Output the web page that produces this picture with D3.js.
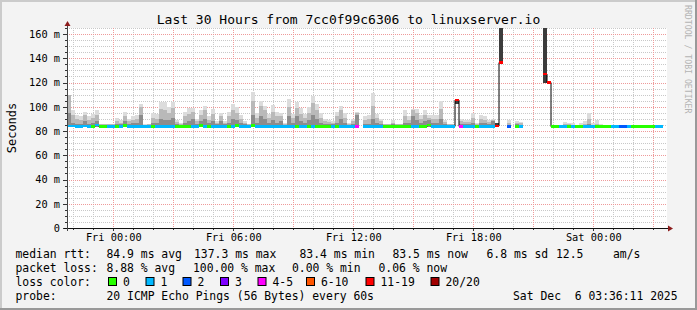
<!DOCTYPE html>
<html>
<head>
<meta charset="utf-8">
<script src="https://cdn.jsdelivr.net/npm/d3@7"></script>
<style>
  html, body { margin: 0; padding: 0; background: #f3f3f3; }
  svg { display: block; font-family: "DejaVu Sans Mono", monospace; }
</style>
</head>
<body>
<script>
// one column = 12 minutes, first column starts Thu 21:41 (UTC)
const startTime = Date.UTC(2025, 11, 4, 21, 41, 10);
const endTime = Date.UTC(2025, 11, 6, 3, 41, 10);
const stepMinutes = 12;

// median rtt per column (ms)
const median = [
  84.0, 84.0, 83.8, 83.8, 84.0, 83.8, 83.8, 85.0, 83.6, 83.6,
  83.8, 83.8, 83.6, 83.8, 84.6, 83.8, 83.8, 83.8, 83.8, 83.6,
  83.6, 83.6, 83.8, 83.8, 83.8, 83.8, 83.8, 83.6, 83.6, 83.6,
  83.6, 83.8, 83.8, 84.6, 83.8, 83.6, 83.8, 83.8, 83.8, 83.8,
  83.6, 83.8, 84.4, 83.8, 83.8, 83.8, 84.8, 83.8, 83.8, 83.8,
  83.8, 83.8, 83.8, 83.8, 83.8, 83.8, 83.8, 83.6, 83.8, 83.8,
  83.6, 83.8, 83.6, 83.6, 83.6, 83.6, 83.8, 83.6, 83.8, 83.8,
  83.8, 83.8, 83.8, null, 83.8, 83.8, 83.8, 83.8, 83.8, 83.6,
  83.6, 83.6, 83.6, 83.6, 83.6, 83.6, 83.8, 83.8, 83.6, 83.6,
  85.0, 83.8, 83.8, 83.8, 83.8, 83.8, 83.8, 105.5, 83.8, 83.8,
  83.8, 83.8, 83.6, 83.8, 83.8, 83.8, 83.8, 84.2, 136.5, null,
  83.8, null, 83.6, 83.8, null, null, null, null, null, 127.0,
  120.0, 83.6, 83.6, 83.8, 83.8, 83.6, 83.8, 83.6, 83.6, 83.8,
  83.8, 83.8, 83.6, 83.6, 83.6, 83.6, 83.8, 83.8, 83.8, 83.8,
  83.8, 83.6, 83.6, 83.6, 83.6, 83.6, 83.6, 83.8, 83.8, null
];

// lost pings (of 20) per column
const lossCount = [
  1, 1, 1, 1, 1, 1, 0, 1, 0, 0,
  1, 1, 0, 1, 0, 1, 1, 1, 1, 1,
  1, 0, 1, 1, 1, 1, 1, 0, 0, 0,
  0, 1, 1, 0, 1, 0, 1, 1, 1, 1,
  0, 1, 0, 1, 1, 1, 0, 1, 1, 1,
  1, 1, 1, 1, 1, 1, 1, 0, 1, 1,
  0, 1, 0, 0, 0, 0, 1, 0, 1, 1,
  1, 1, 4, null, 1, 1, 1, 1, 1, 0,
  0, 0, 0, 0, 0, 0, 1, 1, 0, 0,
  0, 1, 1, 1, 1, 1, 1, 14, 5, 1,
  1, 1, 0, 1, 1, 1, 1, 12, 15, null,
  2, null, 0, 1, null, null, null, null, null, 13,
  16, 0, 0, 1, 1, 0, 1, 0, 0, 1,
  1, 1, 0, 0, 0, 0, 1, 1, 2, 2,
  1, 0, 0, 0, 0, 0, 0, 1, 1, null
];

// smoke: fastest ping, inner band top, middle band top, slowest ping (ms)
const smokeMin = [
  83.2, 83.2, 83.2, 83.2, 83.2, 83.2, 83.2, 83.2, 83.2, 83.2,
  83.2, 83.2, 83.2, 83.2, 83.2, 83.2, 83.2, 83.2, 83.2, 83.2,
  83.2, 83.2, 83.2, 83.2, 83.2, 83.2, 83.2, 83.2, 83.2, 83.2,
  83.2, 83.2, 83.2, 83.2, 83.2, 83.2, 83.2, 83.2, 83.2, 83.2,
  83.2, 83.2, 83.2, 83.2, 83.2, 83.2, 83.2, 83.2, 83.2, 83.2,
  83.2, 83.2, 83.2, 83.2, 83.2, 83.2, 83.2, 83.2, 83.2, 83.2,
  83.2, 83.2, 83.2, 83.2, 83.2, 83.2, 83.2, 83.2, 83.2, 83.2,
  83.2, 83.2, 83.2, null, 83.2, 83.2, 83.2, 83.2, 83.2, 83.2,
  83.2, 83.2, 83.2, 83.2, 83.2, 83.2, 83.2, 83.2, 83.2, 83.2,
  83.2, 83.2, 83.2, 83.2, 83.2, 83.2, 83.2, 102.2, 83.2, 83.2,
  83.2, 83.2, 83.2, 83.2, 83.2, 83.2, 83.2, 83.2, 136.5, null,
  83.2, null, 83.2, 83.2, null, null, null, null, null, 120.0,
  null, 83.2, 83.2, 83.2, 83.2, 83.2, 83.2, 83.2, 83.2, 83.2,
  83.2, 83.2, 83.2, 83.2, 83.2, 83.2, 83.2, 83.2, 83.2, 83.2,
  83.2, 83.2, 83.2, 83.2, 83.2, 83.2, 83.2, 83.2, 83.2, null
];
const smokeLo = [
  95, 87, 86, 86, 88, 86, 87, 88, 84.8, 84.8,
  84.8, 84.8, 86, 85.5, 88, 86, 86.5, 87, 93, 84.5,
  84.8, 87, 86.5, 90, 89, 89, 91, 86, 85, 87,
  88, 90, 86, 88, 90, 86.5, 88, 85.5, 88, 85.5,
  87, 90, 89, 87, 85.5, 84.8, 93, 87, 92, 90,
  87, 89, 87, 88, 85, 92, 87, 92, 88, 87,
  89, 93, 90, 87, 86, 86, 85.5, 87, 90, 87,
  85, 86, 93, null, 86, 86, 90, 87, 86, 84.8,
  84.8, 85.5, 84.8, 84.8, 87, 86.5, 92, 89, 87, 88,
  89, 87, 87, 90, 86, 84.8, 84.8, 105.2, 86, 86,
  85.5, 87, 85, 87, 86.5, 86, 88, 85, 200, null,
  85, null, 85.5, 85, null, null, null, null, null, 200,
  null, 84, 84, 84, 84.5, 84.5, 84.2, 84, 84.2, 84.5,
  86, 84.2, 84.5, 84.2, 84, 84, 84, 84, 84, 84,
  84, 84, 84, 84, 84, 84, 84, 84, 84, null
];
const smokeHi = [
  110, 93, 90, 89, 93, 89, 91, 93, 85.5, 85.5,
  85.5, 85.5, 88, 87, 92, 88, 89, 90, 100, 85,
  85.5, 91, 90, 98, 97, 95, 99, 87.5, 86, 92,
  94, 96, 88, 93, 97, 89.5, 94, 87, 92, 87,
  92, 97, 95, 90, 87, 85.5, 105, 91, 101, 97,
  91, 96, 92, 92, 86, 100, 91, 99, 94, 91,
  95, 103, 97, 91, 88, 87.5, 87, 92, 97, 91,
  86, 88, 95, null, 89, 90, 101, 91, 88, 85.5,
  85.5, 87, 85.5, 85.5, 92, 89, 97, 95, 90, 93,
  91, 90, 90, 98, 87.5, 85.5, 85.5, 105.2, 88, 87.5,
  87.5, 91, 86, 90, 89, 87.5, 89.5, 86, 200, null,
  87, null, 87, 86.5, null, null, null, null, null, 200,
  null, 84.3, 84.5, 84.3, 85.5, 85.5, 85, 84.5, 85, 86,
  90, 85, 86, 85, 84.3, 84, 84, 84.5, 84.3, 84,
  84.5, 84.3, 84, 84.5, 84.3, 84.5, 84.3, 84, 84, null
];
const smokeMax = [
  110, 97, 93, 92, 96, 92, 94, 97, 86, 86,
  86, 86, 91, 89, 96, 90, 92, 93, 102.5, 85.5,
  86, 95, 94, 104, 104, 100, 104, 89, 87, 96,
  99, 99, 90, 97, 101, 92, 98, 88, 95, 88,
  96, 102.5, 100, 93, 88, 86, 112.6, 95, 104.5, 101,
  94, 101.5, 96, 95, 87, 106.6, 94, 104, 99, 94,
  100, 109, 102, 95, 90, 89, 88, 96, 101, 95,
  87, 90, 96, null, 92, 93, 111.6, 94, 90, 86,
  86, 89, 86, 86, 97, 92, 98, 98, 93, 97,
  93, 93, 93, 104.6, 89, 86, 86, 105.2, 90, 89,
  89, 95, 87, 93, 92, 89, 90, 87, 200, null,
  89, null, 88, 87.5, null, null, null, null, null, 200,
  null, 84.5, 85, 84.5, 87.6, 87, 86.5, 85, 86.5, 88,
  95, 86.5, 89, 86, 84.5, 84.2, 84.2, 85, 84.5, 84.2,
  85, 84.5, 84.2, 85, 84.5, 85, 84.5, 84.2, 84.2, null
];

const yTicks = [0, 20, 40, 60, 80, 100, 120, 140, 160];
const yTickLabels = ["0", "20 m", "40 m", "60 m", "80 m", "100 m", "120 m", "140 m", "160 m"];

const lossLabels = ["0", "1", "2", "3", "4-5", "6-10", "11-19", "20/20"];
const lossUpper = [0, 1, 2, 3, 5, 10, 19, 20];
const lossColors = ["#26ff00", "#00b8ff", "#0059ff", "#7e00ff", "#ff00ff", "#ff5500", "#ff0000", "#a10000"];

const titleText = "Last 30 Hours from 7cc0f99c6306 to linuxserver.io";
const rttStats = ["median rtt:", "84.9 ms avg", "137.3 ms max", "83.4 ms min", "83.5 ms now", "6.8 ms sd", "12.5", "am/s"];
const lossStats = ["packet loss:", "8.88 % avg", "100.00 % max", "0.00 % min", "0.06 % now"];
const probeText = ["probe:", "20 ICMP Echo Pings (56 Bytes) every 60s", "Sat Dec  6 03:36:11 2025"];

// ---------------------------------------------------------------
const W = 697, H = 310;
const plotLeft = 67, plotRight = 667, plotTop = 28, plotBottom = 228;

const svg = d3.select('body').append('svg')
  .attr('width', W)
  .attr('height', H);

// background + 3d frame
svg.append('rect').attr('width', W).attr('height', H).attr('fill', '#f3f3f3');
svg.append('rect').attr('x', 0).attr('y', 0).attr('width', W).attr('height', 2).attr('fill', '#cbcbcb');
svg.append('rect').attr('x', 0).attr('y', 0).attr('width', 2).attr('height', H).attr('fill', '#cbcbcb');
svg.append('rect').attr('x', 0).attr('y', H - 2).attr('width', W).attr('height', 2).attr('fill', '#999999');
svg.append('rect').attr('x', W - 2).attr('y', 0).attr('width', 2).attr('height', H).attr('fill', '#999999');

svg.append('rect')
  .attr('x', plotLeft).attr('y', plotTop)
  .attr('width', plotRight - plotLeft).attr('height', plotBottom - plotTop)
  .attr('fill', '#ffffff');

const x = d3.scaleUtc().domain([new Date(startTime), new Date(endTime)]).range([plotLeft, plotRight]);
const y = d3.scaleLinear().domain([0, 165]).range([plotBottom, plotTop]);

const colTime = (i) => new Date(startTime + i * stepMinutes * 60000);

// grid
const grid = svg.append('g').attr('class', 'grid');
const minorY = d3.range(5, 166, 5).filter((v) => v % 20 !== 0);
const hours = x.ticks(d3.utcHour.every(1));

function hLines(values, color) {
  grid.append('g').selectAll('line')
    .data(values)
    .enter().append('line')
    .attr('x1', plotLeft).attr('x2', plotRight)
    .attr('y1', (d) => Math.round(y(d)) + 0.5)
    .attr('y2', (d) => Math.round(y(d)) + 0.5)
    .attr('stroke', color)
    .attr('stroke-dasharray', '1,1');
}
function vLines(values, color) {
  grid.append('g').selectAll('line')
    .data(values)
    .enter().append('line')
    .attr('x1', (d) => Math.round(x(d)) + 0.5)
    .attr('x2', (d) => Math.round(x(d)) + 0.5)
    .attr('y1', plotTop).attr('y2', plotBottom)
    .attr('stroke', color)
    .attr('stroke-dasharray', '1,1');
}
hLines(minorY, '#c8c8c8');
vLines(hours.filter((d) => d.getUTCHours() % 3 !== 0), '#c8c8c8');
hLines(yTicks.filter((v) => v > 0), '#ee9a9a');
vLines(hours.filter((d) => d.getUTCHours() % 3 === 0), '#ee9a9a');

// plot area clip
svg.append('clipPath').attr('id', 'plotclip')
  .append('rect')
  .attr('x', plotLeft).attr('y', plotTop)
  .attr('width', plotRight - plotLeft).attr('height', plotBottom - plotTop);

const plot = svg.append('g').attr('clip-path', 'url(#plotclip)');

const cols = median.map((m, i) => ({
  i: i,
  t0: colTime(i),
  t1: colTime(i + 1),
  median: m,
  loss: lossCount[i],
  min: smokeMin[i],
  lo: smokeLo[i],
  hi: smokeHi[i],
  max: smokeMax[i]
}));

// smoke bands, darker towards the median; few surviving pings give a dark block
const bands = [];
cols.forEach((c) => {
  if (c.min == null) {
    return;
  }
  const heavy = c.loss != null && c.loss >= 11;
  bands.push({c: c, from: c.min, to: c.lo, color: heavy ? '#3c3c3c' : '#8c8c8c'});
  bands.push({c: c, from: c.lo, to: c.hi, color: heavy ? '#3c3c3c' : '#b9b9b9'});
  bands.push({c: c, from: c.hi, to: c.max, color: heavy ? '#3c3c3c' : '#dcdcdc'});
});
plot.selectAll('rect.smoke')
  .data(bands.filter((b) => b.to > b.from))
  .enter().append('rect')
  .attr('class', 'smoke')
  .attr('x', (d) => x(d.c.t0))
  .attr('width', (d) => x(d.c.t1) - x(d.c.t0))
  .attr('y', (d) => y(d.to))
  .attr('height', (d) => y(d.from) - y(d.to))
  .attr('fill', (d) => d.color)
  .attr('shape-rendering', 'crispEdges');

// thin black median line (step shape)
const steps = [];
cols.forEach((c) => {
  steps.push({t: c.t0, v: c.median});
  steps.push({t: c.t1, v: c.median});
});
const medianLine = d3.line()
  .defined((d) => d.v != null)
  .x((d) => x(d.t))
  .y((d) => y(d.v));
plot.append('path')
  .attr('d', medianLine(steps))
  .attr('fill', 'none')
  .attr('stroke', '#000')
  .attr('stroke-width', 1);

// loss coloured median marks
const lossIndex = (l) => lossUpper.findIndex((u) => l <= u);
plot.selectAll('rect.med')
  .data(cols.filter((c) => c.median != null))
  .enter().append('rect')
  .attr('class', 'med')
  .attr('x', (d) => x(d.t0))
  .attr('width', (d) => x(d.t1) - x(d.t0))
  .attr('y', (d) => y(d.median) - 1.3)
  .attr('height', 2.6)
  .attr('fill', (d) => lossColors[lossIndex(d.loss)])
  .attr('shape-rendering', 'crispEdges');

// axes
const axisColor = '#333';
const yAxis = d3.axisLeft(y)
  .tickValues(yTicks)
  .tickFormat((d, i) => yTickLabels[i])
  .tickSize(4)
  .tickPadding(3);
const gy = svg.append('g')
  .attr('transform', 'translate(' + plotLeft + ',0)')
  .call(yAxis);
const yMinor = d3.axisLeft(y)
  .tickValues(minorY)
  .tickFormat('')
  .tickSize(2);
const gym = svg.append('g')
  .attr('transform', 'translate(' + plotLeft + ',0)')
  .call(yMinor);

const xAxis = d3.axisBottom(x)
  .ticks(d3.utcHour.every(6))
  .tickFormat(d3.utcFormat('%a %H:%M'))
  .tickSize(3)
  .tickPadding(3);
const gx = svg.append('g')
  .attr('transform', 'translate(0,' + plotBottom + ')')
  .call(xAxis);
const xMinor = d3.axisBottom(x)
  .ticks(d3.utcHour.every(1))
  .tickFormat('')
  .tickSize(2);
const gxm = svg.append('g')
  .attr('transform', 'translate(0,' + plotBottom + ')')
  .call(xMinor);

[gy, gym, gx, gxm].forEach((g) => {
  g.select('.domain').remove();
  g.selectAll('line').attr('stroke', axisColor).attr('shape-rendering', 'crispEdges');
  g.selectAll('text')
    .attr('fill', '#000')
    .style('font-family', '"DejaVu Sans Mono", monospace')
    .style('font-size', '10.3px');
});

// axis lines with arrows
svg.append('line')
  .attr('x1', plotLeft - 3).attr('x2', plotRight + 1)
  .attr('y1', plotBottom + 0.5).attr('y2', plotBottom + 0.5)
  .attr('stroke', '#111');
svg.append('line')
  .attr('x1', plotLeft + 0.5).attr('x2', plotLeft + 0.5)
  .attr('y1', plotBottom + 3).attr('y2', plotTop - 2)
  .attr('stroke', '#444');
svg.append('path')
  .attr('d', 'M' + (plotRight + 1) + ',' + (plotBottom - 2.5) + 'L' + (plotRight + 6) + ',' + (plotBottom + 0.5) + 'L' + (plotRight + 1) + ',' + (plotBottom + 3.5) + 'Z')
  .attr('fill', '#8c1c1c');
svg.append('path')
  .attr('d', 'M' + (plotLeft - 2.5) + ',' + (plotTop - 2) + 'L' + (plotLeft + 0.5) + ',' + (plotTop - 7) + 'L' + (plotLeft + 3.5) + ',' + (plotTop - 2) + 'Z')
  .attr('fill', '#8c1c1c');

// titles
svg.append('text')
  .attr('x', W / 2).attr('y', 24)
  .attr('text-anchor', 'middle')
  .style('font-size', '13px')
  .text(titleText);

svg.append('text')
  .attr('transform', 'translate(15.5,' + ((plotTop + plotBottom) / 2) + ') rotate(-90)')
  .attr('text-anchor', 'middle')
  .style('font-size', '12px')
  .text('Seconds');

svg.append('text')
  .attr('transform', 'translate(685,5) rotate(90)')
  .attr('fill', '#b4b4b4')
  .style('font-size', '8.2px')
  .text('RRDTOOL / TOBI OETIKER');

// legend
const legendFont = '11.4px';
const rowY = [257.5, 271.5, 285.5, 299.5];
const rttX = [15.5, 106.5, 194, 299.5, 392.5, 486.5, 556, 613];
const lossX = [15.5, 106.5, 193, 292, 378.5];
const probeX = [15.5, 106.5, 513];

const legend = svg.append('g').style('font-size', legendFont).attr('fill', '#000');
legend.selectAll('text.rtt')
  .data(rttStats)
  .enter().append('text')
  .attr('x', (d, i) => rttX[i]).attr('y', rowY[0])
  .text((d) => d);
legend.selectAll('text.loss')
  .data(lossStats)
  .enter().append('text')
  .attr('x', (d, i) => lossX[i]).attr('y', rowY[1])
  .text((d) => d);
legend.append('text').attr('x', 15.5).attr('y', rowY[2]).text('loss color:');
const boxX = [108.5, 146, 183, 220.5, 258, 306.5, 366, 431];
const swatch = legend.selectAll('g.sw')
  .data(lossLabels)
  .enter().append('g');
swatch.append('rect')
  .attr('x', (d, i) => boxX[i]).attr('y', rowY[2] - 8)
  .attr('width', 8).attr('height', 8)
  .attr('fill', (d, i) => lossColors[i])
  .attr('stroke', '#000');
swatch.append('text')
  .attr('x', (d, i) => boxX[i] + 14.5).attr('y', rowY[2])
  .text((d) => d);
legend.selectAll('text.probe')
  .data(probeText)
  .enter().append('text')
  .attr('x', (d, i) => probeX[i]).attr('y', rowY[3])
  .attr('xml:space', 'preserve')
  .style('white-space', 'pre')
  .text((d) => d);
</script>
</body>
</html>
